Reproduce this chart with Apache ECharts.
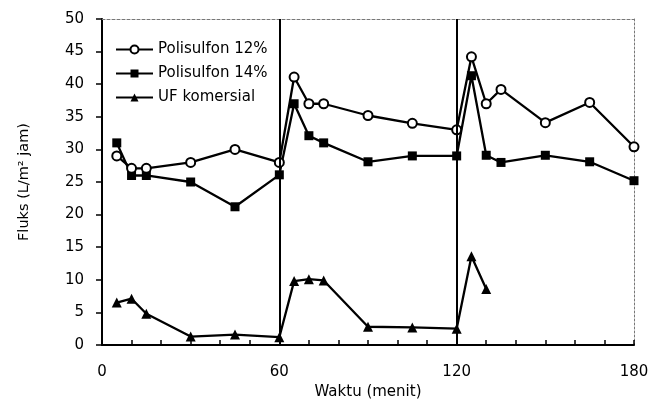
<!DOCTYPE html>
<html>
<head>
<meta charset="utf-8">
<script src="https://cdn.jsdelivr.net/npm/echarts@6/dist/echarts.min.js"></script>
<style>
html,body{margin:0;padding:0;background:#fff;}
#c{width:663px;height:416px;}
</style>
</head>
<body>
<div id="c"></div>
<script>
var seriesNames = ['Polisulfon 12%', 'Polisulfon 14%', 'UF komersial'];
var time12 = [5, 10, 15, 30, 45, 60, 65, 70, 75, 90, 105, 120, 125, 130, 135, 150, 165, 180];
var flux12 = [29, 27.1, 27.1, 28, 30, 28, 41.1, 37, 37, 35.2, 34, 33, 44.2, 37, 39.2, 34.1, 37.2, 30.4];
var time14 = [5, 10, 15, 30, 45, 60, 65, 70, 75, 90, 105, 120, 125, 130, 135, 150, 165, 180];
var flux14 = [31, 26, 26, 25, 21.2, 26.1, 37, 32.1, 31, 28.1, 29, 29, 41.3, 29.1, 28, 29.1, 28.1, 25.2];
var timeUF = [5, 10, 15, 30, 45, 60, 65, 70, 75, 90, 105, 120, 125, 130];
var fluxUF = [6.5, 7.1, 4.8, 1.3, 1.6, 1.2, 9.8, 10.1, 9.9, 2.8, 2.7, 2.5, 13.6, 8.6];
var xTicks = [0, 60, 120, 180];
var yTicks = [0, 5, 10, 15, 20, 25, 30, 35, 40, 45, 50];
var dividers = [60, 120];

function pairs(xs, ys) { return xs.map(function (x, i) { return [x, ys[i]]; }); }

var FONT = 'DejaVu Sans';
var chart = echarts.init(document.getElementById('c'));
chart.setOption({
  animation: false,
  backgroundColor: '#fff',
  textStyle: { fontFamily: FONT, color: '#000' },
  grid: { left: 102, right: 29, top: 19, bottom: 71 },
  legend: {
    left: 110, top: 37, orient: 'vertical', itemGap: 9,
    itemWidth: 37, itemHeight: 10,
    textStyle: { fontFamily: FONT, fontSize: 15, color: '#000' },
    data: seriesNames
  },
  xAxis: [{
    type: 'value', min: 0, max: 180, interval: 60,
    name: 'Waktu (menit)', nameLocation: 'middle', nameGap: 40,
    nameTextStyle: { fontFamily: FONT, fontSize: 15, color: '#000' },
    axisLine: { show: true, lineStyle: { color: '#000', width: 2 } },
    axisTick: { show: true, inside: true, length: 5, lineStyle: { color: '#000', width: 1.5 } },
    minorTick: { show: true, splitNumber: 6, length: 5, lineStyle: { color: '#000', width: 1.5 } },
    axisLabel: { fontFamily: FONT, fontSize: 15, color: '#000', margin: 20,
      customValues: xTicks },
    splitLine: { show: false }
  }, {
    type: 'value', min: 0, max: 180, position: 'top',
    axisLine: { show: true, onZero: false, lineStyle: { color: '#777', width: 1, type: [3, 2] } },
    axisTick: { show: false }, axisLabel: { show: false }, splitLine: { show: false }
  }],
  yAxis: [{
    type: 'value', min: 0, max: 50, interval: 5,
    name: 'Fluks (L/m\u00B2 jam)', nameLocation: 'middle', nameGap: 70, nameRotate: 90,
    nameTextStyle: { fontFamily: FONT, fontSize: 14.5, color: '#000' },
    axisLine: { show: true, lineStyle: { color: '#000', width: 2 } },
    axisTick: { show: true, inside: false, length: 6, lineStyle: { color: '#000', width: 1.5 } },
    axisLabel: { fontFamily: FONT, fontSize: 15, color: '#000', margin: 18 },
    splitLine: { show: false }
  }, {
    type: 'value', min: 0, max: 50, position: 'right',
    axisLine: { show: true, onZero: false, lineStyle: { color: '#777', width: 1, type: [2, 2] } },
    axisTick: { show: false }, axisLabel: { show: false }, splitLine: { show: false }
  }],
  series: [{
    name: seriesNames[0], type: 'line', data: pairs(time12, flux12),
    symbol: 'circle', symbolSize: 9, z: 4,
    lineStyle: { color: '#000', width: 2.3 },
    itemStyle: { color: '#fff', borderColor: '#000', borderWidth: 2 },
    markLine: {
      silent: true, symbol: 'none', label: { show: false },
      lineStyle: { color: '#000', width: 2, type: 'solid' },
      data: dividers.map(function (d) { return { xAxis: d }; })
    }
  }, {
    name: seriesNames[1], type: 'line', data: pairs(time14, flux14),
    symbol: 'rect', symbolSize: 9, z: 3,
    lineStyle: { color: '#000', width: 2.3 },
    itemStyle: { color: '#000', borderColor: '#000', borderWidth: 0 }
  }, {
    name: seriesNames[2], type: 'line', data: pairs(timeUF, fluxUF),
    symbol: 'triangle', symbolSize: 10, z: 3,
    lineStyle: { color: '#000', width: 2.3 },
    itemStyle: { color: '#000', borderColor: '#000', borderWidth: 0 }
  }]
});
</script>
</body>
</html>
